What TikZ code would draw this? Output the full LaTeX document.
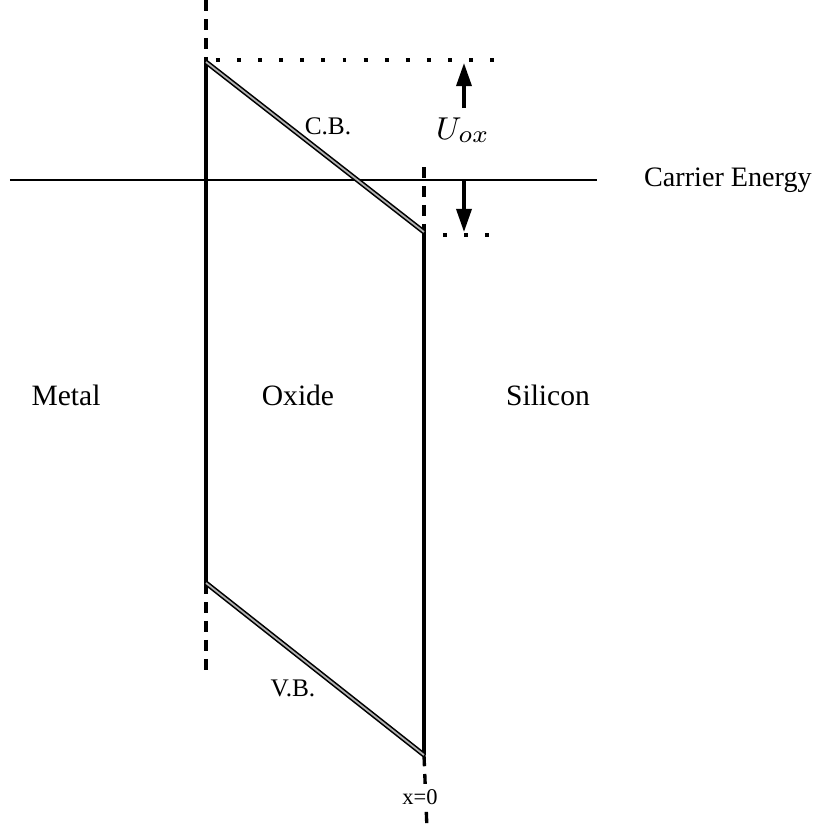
\documentclass[tikz,border=0pt]{standalone}
\usepackage{fontspec}
\setmainfont{Liberation Serif}
\usetikzlibrary{arrows.meta,positioning}

\begin{document}
\begin{tikzpicture}[x=0.01cm,y=-0.01cm,
  edge/.style={line width=0.95pt},
  band/.style={line width=0.45pt,double=black!30,double distance=0.5pt},
  bound/.style={line width=0.95pt,dash pattern=on 3.2pt off 2.2pt},
  level/.style={line width=1pt,dash pattern=on 1.1pt off 4.9pt},
  lab/.style={font=\fontsize{8.4}{10}\selectfont},
  tag/.style={font=\fontsize{7.2}{8}\selectfont},
  arr/.style={-{Triangle[length=2.3mm,width=1.5mm]},line width=0.95pt}]
  \useasboundingbox (0,0) rectangle (828,829);
  % corners of the oxide
  \coordinate (tl) at (206,62);
  \coordinate (tr) at (424,232);
  \coordinate (br) at (424,755);
  \coordinate (bl) at (206,583);
  \coordinate (mtop) at (206,0);
  \coordinate (mbot) at (206,675);
  \coordinate (stop) at (424,167);
  \coordinate (sbot) at (427,829);
  % carrier energy level
  \coordinate (ce1) at (10,180);
  \coordinate (ce2) at (597,180);
  \draw[line width=0.8pt] (ce1) -- (ce2);
  \node[font=\fontsize{8}{10}\selectfont,anchor=west,inner sep=1pt] (ce) at (640,180) {Carrier Energy};
  % interfaces
  \draw[edge] (tl) -- (bl);
  \draw[edge] (tr) -- (br);
  \draw[bound] (mtop) -- (tl);
  \draw[bound] (bl) -- (mbot);
  \draw[bound] (stop) -- (tr);
  \draw[bound] (br) -- (sbot);
  % bands
  \draw[band] (tl) -- (tr);
  \draw[band] (bl) -- (br);
  \node[tag] (cb) at (328,126) {C.B.};
  \node[tag] (vb) at (293,688) {V.B.};
  % oxide drop
  \coordinate (up1) at (216,60);
  \coordinate (up2) at (495,60);
  \coordinate (dn1) at (443,235);
  \coordinate (dn2) at (492,235);
  \draw[level] (up1) -- (up2);
  \draw[level] (dn1) -- (dn2);
  \coordinate (a1) at (464,108);
  \coordinate (a2) at (464,63);
  \coordinate (a3) at (464,180);
  \coordinate (a4) at (464,232);
  \draw[arr] (a1) -- (a2);
  \draw[arr] (a3) -- (a4);
  \node[font=\fontsize{9.4}{11}\selectfont] (uox) at (463,130) {$U_{ox}$};
  % regions
  \node[lab] (metal) at (66,395) {Metal};
  \node[lab] (oxide) at (298,395) {Oxide};
  \node[lab] (si) at (548,395) {Silicon};
  \node[font=\fontsize{6.4}{8}\selectfont,fill=white,inner sep=1.5pt] (x0) at (420,797) {x=0};
\end{tikzpicture}
\end{document}
